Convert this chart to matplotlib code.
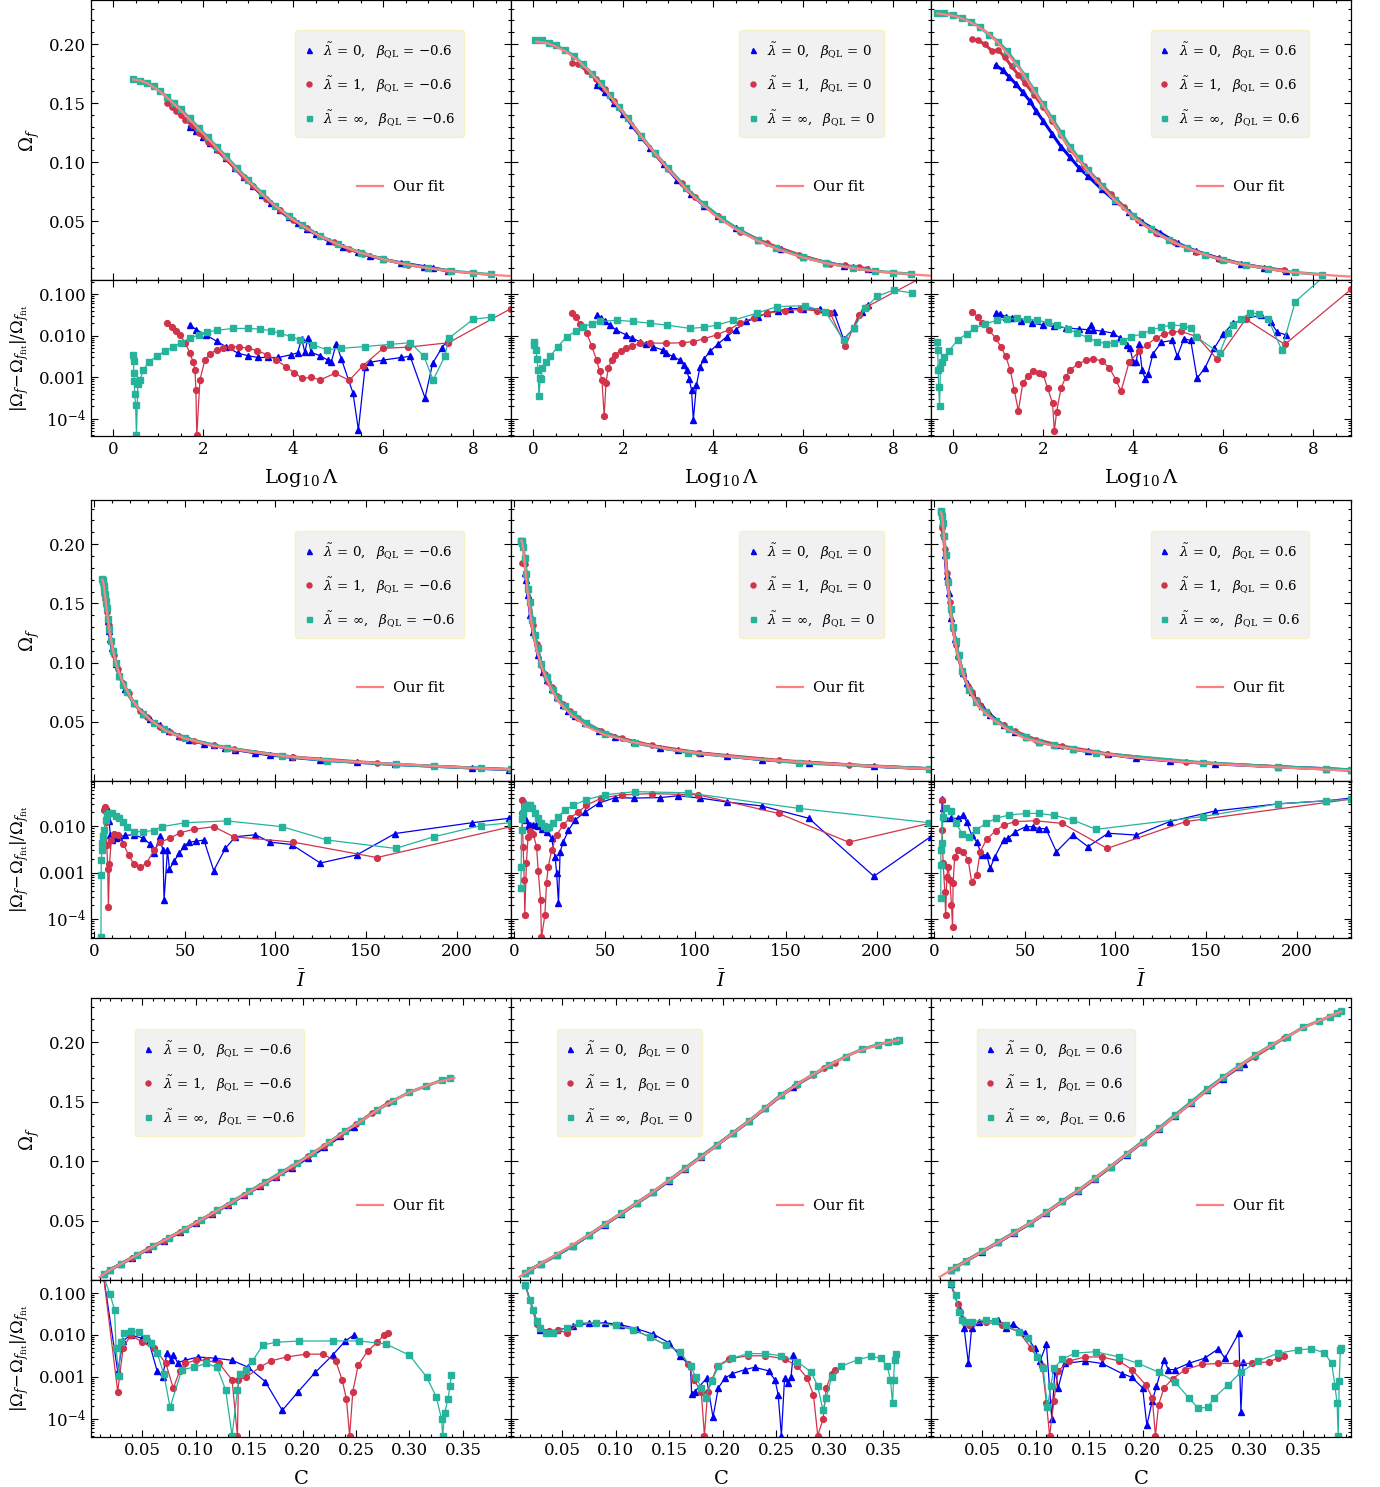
import numpy as np
import matplotlib.pyplot as plt
from matplotlib.lines import Line2D
from matplotlib.ticker import FixedLocator, FixedFormatter, MultipleLocator, LogLocator, NullFormatter

plt.rcParams["font.family"] = ["DejaVu Serif"]
plt.rcParams["mathtext.fontset"] = "dejavuserif"

BLUE = "#0000f0"
RED = "#d1334b"
TEAL = "#26b39b"
FIT = "#ff8080"

# ---------------- block 1: Log10 Lambda ----------------
# beta_QL = -0.6
Lm_fit_x = [0.45, 0.6, 0.75, 1.0, 1.25, 1.5, 2.0, 2.5, 3.0, 3.5, 4.0, 4.5, 5.0, 5.5, 6.0, 6.5, 7.0, 7.5, 8.0, 8.5, 8.84]
Lm_fit_y = [0.170, 0.169, 0.167, 0.161, 0.153, 0.144, 0.124, 0.104, 0.084, 0.066, 0.051, 0.039, 0.030, 0.023, 0.0175, 0.0133, 0.010, 0.0076, 0.0057, 0.0042, 0.0033]
Lm_sq_x = [0.45, 0.6, 0.75, 0.9, 1.05, 1.2, 1.35, 1.5, 1.7, 1.9, 2.1, 2.3, 2.5, 2.75, 3.0, 3.3, 3.6, 3.9, 4.2, 4.6, 5.0, 5.5, 6.0, 6.5, 7.0, 7.5, 8.0, 8.4]
Lm_sq_y = [0.170, 0.169, 0.167, 0.164, 0.160, 0.155, 0.150, 0.145, 0.137, 0.129, 0.121, 0.113, 0.105, 0.095, 0.085, 0.074, 0.063, 0.0545, 0.0465, 0.0375, 0.0302, 0.0232, 0.0177, 0.0134, 0.0101, 0.0077, 0.0059, 0.0047]
Lm_circ_x = [1.2, 1.3, 1.4, 1.5, 1.6, 1.75, 1.9, 2.1, 2.3, 2.5, 2.7, 2.9, 3.1, 3.4, 3.7, 4.0, 4.3, 4.6, 4.9, 5.25, 5.55, 6.0, 6.55, 7.45]
Lm_circ_y = [0.150, 0.147, 0.143, 0.140, 0.136, 0.131, 0.125, 0.117, 0.110, 0.103, 0.095, 0.087, 0.080, 0.069, 0.059, 0.051, 0.044, 0.037, 0.032, 0.026, 0.0223, 0.0175, 0.0130, 0.0078]
Lm_tri_x = [1.7, 1.85, 2.0, 2.15, 2.3, 2.5, 2.7, 2.9, 3.1, 3.3, 3.5, 3.7, 3.9, 4.1, 4.3, 4.5, 4.8, 5.1, 5.45, 5.7, 6.0, 6.4, 6.9, 7.1, 7.45]
Lm_tri_y = [0.130, 0.126, 0.121, 0.116, 0.111, 0.103, 0.095, 0.087, 0.080, 0.072, 0.065, 0.059, 0.053, 0.048, 0.043, 0.039, 0.033, 0.028, 0.0235, 0.0205, 0.0176, 0.0145, 0.0114, 0.0103, 0.0077]
Lm_sq_rx = [0.45, 0.455, 0.46, 0.47, 0.48, 0.5, 0.52, 0.55, 0.6, 0.67, 0.8, 0.97, 1.15, 1.34, 1.5, 1.71, 1.9, 2.08, 2.3, 2.67, 3.0, 3.27, 3.5, 3.71, 3.95, 4.16, 4.45, 4.75, 5.07, 5.6, 6.15, 6.6, 6.9, 7.11, 7.37, 7.46, 8.0, 8.4]
Lm_sq_r = [0.0035, 0.0025, 0.0013, 0.0008, 0.0004, 0.00022, 0.00004, 0.0007, 0.00087, 0.0015, 0.0024, 0.0032, 0.0043, 0.0054, 0.0068, 0.0087, 0.0105, 0.0123, 0.0135, 0.015, 0.015, 0.0145, 0.0132, 0.0115, 0.0095, 0.0079, 0.006, 0.0046, 0.005, 0.0055, 0.0062, 0.0068, 0.0033, 0.00087, 0.0032, 0.0087, 0.025, 0.028]
Lm_circ_rx = [1.19, 1.3, 1.4, 1.49, 1.6, 1.71, 1.78, 1.82, 1.84, 1.86, 1.93, 2.04, 2.15, 2.3, 2.45, 2.63, 2.8, 3.0, 3.2, 3.42, 3.63, 3.84, 4.02, 4.2, 4.4, 4.6, 4.93, 5.25, 5.55, 6.0, 6.55, 7.45, 8.84]
Lm_circ_r = [0.020, 0.016, 0.013, 0.0105, 0.0068, 0.0038, 0.0023, 0.0015, 0.0005, 0.00004, 0.00087, 0.0026, 0.0036, 0.0046, 0.0052, 0.0055, 0.0054, 0.005, 0.0044, 0.0035, 0.0026, 0.0018, 0.0013, 0.00095, 0.001, 0.00087, 0.00125, 0.00085, 0.0019, 0.005, 0.0053, 0.0068, 0.045]
Lm_tri_rx = [1.71, 1.85, 2.06, 2.3, 2.5, 2.78, 3.0, 3.22, 3.45, 3.67, 3.96, 4.1, 4.19, 4.26, 4.33, 4.4, 4.6, 4.77, 4.85, 4.96, 5.07, 5.33, 5.45, 5.6, 5.7, 6.0, 6.4, 6.6, 6.93, 7.1, 7.3, 7.45]
Lm_tri_r = [0.018, 0.014, 0.0105, 0.0074, 0.0055, 0.0038, 0.0033, 0.003, 0.003, 0.003, 0.0035, 0.0039, 0.0085, 0.004, 0.009, 0.004, 0.0033, 0.0026, 0.0024, 0.0065, 0.0028, 0.00042, 0.000055, 0.0018, 0.0023, 0.0026, 0.003, 0.0032, 0.00032, 0.0022, 0.005, 0.0085]

# beta_QL = 0
Lz_fit_x = [0.07, 0.3, 0.5, 0.75, 1.0, 1.25, 1.5, 2.0, 2.5, 3.0, 3.5, 4.0, 4.5, 5.0, 5.5, 6.0, 6.5, 7.0, 7.5, 8.0, 8.5, 8.84]
Lz_fit_y = [0.202, 0.201, 0.198, 0.193, 0.186, 0.177, 0.166, 0.142, 0.117, 0.094, 0.073, 0.056, 0.043, 0.033, 0.025, 0.019, 0.0143, 0.0107, 0.008, 0.006, 0.0045, 0.0036]
Lz_sq_x = [0.05, 0.2, 0.35, 0.5, 0.7, 0.9, 1.1, 1.3, 1.5, 1.7, 1.9, 2.1, 2.4, 2.7, 3.0, 3.4, 3.8, 4.2, 4.6, 5.0, 5.4, 6.0, 6.5, 7.1, 7.6, 8.0, 8.4]
Lz_sq_y = [0.203, 0.203, 0.201, 0.199, 0.195, 0.190, 0.183, 0.175, 0.167, 0.157, 0.147, 0.137, 0.122, 0.108, 0.095, 0.078, 0.064, 0.052, 0.042, 0.0335, 0.027, 0.0195, 0.0147, 0.0105, 0.0077, 0.0062, 0.005]
Lz_circ_x = [0.86, 1.0, 1.2, 1.4, 1.6, 1.8, 2.1, 2.4, 2.7, 3.0, 3.3, 3.6, 4.1, 4.6, 5.2, 5.9, 6.6, 6.94, 7.23, 7.42]
Lz_circ_y = [0.184, 0.183, 0.177, 0.170, 0.162, 0.152, 0.137, 0.122, 0.107, 0.094, 0.082, 0.070, 0.054, 0.041, 0.031, 0.0215, 0.0138, 0.0123, 0.0106, 0.0096]
Lz_tri_x = [1.41, 1.6, 1.8, 2.0, 2.2, 2.4, 2.6, 2.9, 3.2, 3.5, 3.8, 4.1, 4.5, 5.0, 5.5, 6.0, 6.5, 6.9, 7.1, 7.45]
Lz_tri_y = [0.165, 0.159, 0.150, 0.141, 0.131, 0.121, 0.112, 0.098, 0.085, 0.073, 0.063, 0.054, 0.044, 0.034, 0.026, 0.0195, 0.0148, 0.0121, 0.011, 0.0094]
Lz_sq_rx = [0.01, 0.03, 0.06, 0.09, 0.11, 0.13, 0.16, 0.18, 0.2, 0.28, 0.38, 0.55, 0.75, 0.95, 1.12, 1.3, 1.49, 1.86, 2.23, 2.6, 2.97, 3.49, 3.8, 4.08, 4.45, 4.97, 5.42, 6.04, 6.49, 6.9, 7.12, 7.38, 7.64, 8.01, 8.42]
Lz_sq_r = [0.0072, 0.006, 0.0045, 0.0028, 0.0015, 0.00035, 0.00095, 0.0009, 0.0017, 0.0023, 0.0032, 0.0055, 0.0095, 0.013, 0.0165, 0.0195, 0.022, 0.0235, 0.022, 0.02, 0.018, 0.015, 0.016, 0.018, 0.0235, 0.035, 0.05, 0.053, 0.038, 0.0079, 0.015, 0.046, 0.089, 0.125, 0.107]
Lz_circ_rx = [0.86, 0.95, 1.05, 1.19, 1.3, 1.41, 1.48, 1.53, 1.58, 1.62, 1.67, 1.75, 1.82, 1.95, 2.07, 2.2, 2.37, 2.6, 2.96, 3.3, 3.56, 3.8, 4.08, 4.35, 4.6, 4.9, 5.2, 5.6, 5.94, 6.3, 6.6, 6.94, 7.23, 7.42, 8.84]
Lz_circ_r = [0.035, 0.028, 0.019, 0.0115, 0.0058, 0.0026, 0.0014, 0.00087, 0.000115, 0.00072, 0.0017, 0.0026, 0.0035, 0.0043, 0.005, 0.0058, 0.0066, 0.0067, 0.0066, 0.0068, 0.0072, 0.0085, 0.0105, 0.014, 0.020, 0.027, 0.035, 0.040, 0.043, 0.040, 0.035, 0.0056, 0.032, 0.05, 0.33]
Lz_tri_rx = [1.41, 1.5, 1.6, 1.71, 1.85, 2.07, 2.2, 2.37, 2.52, 2.66, 2.89, 2.96, 3.1, 3.26, 3.35, 3.41, 3.47, 3.52, 3.56, 3.63, 3.71, 3.8, 3.93, 4.1, 4.3, 4.5, 4.74, 5.0, 5.19, 5.45, 5.7, 6.0, 6.38, 6.68, 6.9, 7.12, 7.3, 7.45]
Lz_tri_r = [0.031, 0.027, 0.022, 0.018, 0.0135, 0.0105, 0.0088, 0.0072, 0.0063, 0.0055, 0.0045, 0.0038, 0.0032, 0.0026, 0.002, 0.0015, 0.0009, 0.0005, 0.000095, 0.00066, 0.0018, 0.0028, 0.0042, 0.0062, 0.0095, 0.014, 0.022, 0.028, 0.035, 0.040, 0.045, 0.045, 0.043, 0.038, 0.0082, 0.015, 0.038, 0.055]

# beta_QL = 0.6
Lp_fit_x = [-0.35, 0.0, 0.25, 0.5, 0.75, 1.0, 1.25, 1.5, 2.0, 2.5, 3.0, 3.5, 4.0, 4.5, 5.0, 5.5, 6.0, 6.5, 7.0, 7.5, 8.0, 8.5, 8.83]
Lp_fit_y = [0.226, 0.224, 0.221, 0.216, 0.210, 0.201, 0.190, 0.178, 0.148, 0.116, 0.092, 0.071, 0.053, 0.040, 0.030, 0.0226, 0.0168, 0.0127, 0.0094, 0.0068, 0.0050, 0.0037, 0.0029]
Lp_sq_x = [-0.35, -0.2, 0.0, 0.2, 0.4, 0.6, 0.8, 1.0, 1.2, 1.4, 1.6, 1.8, 2.0, 2.2, 2.4, 2.6, 2.8, 3.0, 3.3, 3.6, 4.0, 4.4, 4.8, 5.2, 5.6, 6.0, 6.5, 7.0, 7.6, 8.2]
Lp_sq_y = [0.226, 0.226, 0.225, 0.222, 0.219, 0.214, 0.208, 0.202, 0.194, 0.184, 0.173, 0.161, 0.149, 0.137, 0.125, 0.113, 0.103, 0.093, 0.080, 0.068, 0.054, 0.043, 0.034, 0.027, 0.0213, 0.0169, 0.0128, 0.0095, 0.0064, 0.0046]
Lp_circ_x = [0.43, 0.55, 0.7, 0.87, 1.0, 1.15, 1.3, 1.45, 1.6, 1.8, 2.0, 2.2, 2.4, 2.6, 2.9, 3.2, 3.5, 3.8, 4.1, 4.5, 4.9, 5.4, 5.9, 6.5, 7.35]
Lp_circ_y = [0.204, 0.203, 0.200, 0.194, 0.195, 0.189, 0.181, 0.174, 0.167, 0.157, 0.147, 0.135, 0.123, 0.111, 0.097, 0.085, 0.073, 0.062, 0.051, 0.040, 0.032, 0.024, 0.018, 0.0128, 0.0082]
Lp_tri_x = [0.95, 1.1, 1.25, 1.4, 1.55, 1.7, 1.85, 2.0, 2.2, 2.4, 2.6, 2.8, 3.0, 3.3, 3.6, 3.9, 4.2, 4.6, 5.0, 5.4, 5.9, 6.4, 6.9, 7.4]
Lp_tri_y = [0.182, 0.178, 0.172, 0.166, 0.159, 0.152, 0.143, 0.135, 0.124, 0.113, 0.104, 0.095, 0.088, 0.077, 0.067, 0.058, 0.049, 0.040, 0.031, 0.0245, 0.0185, 0.0138, 0.0102, 0.0077]
Lp_sq_rx = [-0.35, -0.34, -0.33, -0.32, -0.3, -0.28, -0.24, -0.2, -0.1, 0.1, 0.3, 0.47, 0.7, 0.98, 1.2, 1.43, 1.65, 1.87, 2.1, 2.32, 2.55, 2.76, 3.0, 3.2, 3.4, 3.58, 3.78, 3.96, 4.2, 4.4, 4.62, 4.84, 5.1, 5.29, 5.4, 5.92, 6.1, 6.22, 6.4, 6.6, 6.8, 7.0, 7.3, 7.6, 8.4]
Lp_sq_r = [0.0072, 0.0045, 0.0015, 0.0006, 0.0002, 0.0017, 0.0024, 0.003, 0.0042, 0.0079, 0.011, 0.015, 0.019, 0.0235, 0.025, 0.026, 0.025, 0.0235, 0.021, 0.018, 0.0145, 0.0115, 0.009, 0.0072, 0.0065, 0.0068, 0.0075, 0.0095, 0.011, 0.0137, 0.016, 0.018, 0.0175, 0.015, 0.0095, 0.0038, 0.0115, 0.018, 0.025, 0.036, 0.033, 0.025, 0.0046, 0.066, 0.38]
Lp_circ_rx = [0.43, 0.55, 0.65, 0.8, 0.95, 1.06, 1.17, 1.27, 1.36, 1.45, 1.55, 1.66, 1.77, 1.9, 2.0, 2.1, 2.21, 2.25, 2.3, 2.4, 2.5, 2.59, 2.78, 2.96, 3.1, 3.3, 3.47, 3.62, 3.73, 3.91, 4.13, 4.3, 4.5, 4.68, 4.87, 5.06, 5.42, 5.87, 6.5, 7.37, 8.84]
Lp_circ_r = [0.038, 0.028, 0.020, 0.0135, 0.0087, 0.0055, 0.0032, 0.0015, 0.0005, 0.000155, 0.00072, 0.0011, 0.0014, 0.0013, 0.0012, 0.00055, 0.00024, 0.00005, 0.00015, 0.00055, 0.001, 0.0015, 0.0021, 0.0026, 0.0028, 0.0025, 0.0017, 0.00087, 0.00046, 0.0023, 0.0042, 0.006, 0.0087, 0.011, 0.0123, 0.0127, 0.0095, 0.0027, 0.025, 0.0062, 0.13]
Lp_tri_rx = [0.95, 1.05, 1.17, 1.3, 1.5, 1.76, 2.0, 2.25, 2.5, 2.8, 3.0, 3.06, 3.1, 3.3, 3.56, 3.7, 3.86, 3.93, 4.0, 4.07, 4.13, 4.2, 4.27, 4.33, 4.44, 4.63, 4.87, 4.98, 5.13, 5.28, 5.42, 5.6, 5.8, 6.0, 6.22, 6.5, 6.83, 7.06, 7.2, 7.39]
Lp_tri_r = [0.036, 0.033, 0.029, 0.026, 0.023, 0.020, 0.018, 0.0168, 0.0155, 0.0145, 0.014, 0.018, 0.0137, 0.013, 0.0115, 0.009, 0.006, 0.005, 0.0024, 0.0024, 0.0065, 0.0015, 0.0009, 0.0012, 0.0037, 0.007, 0.0077, 0.0032, 0.0085, 0.0077, 0.00095, 0.0017, 0.005, 0.011, 0.020, 0.026, 0.031, 0.021, 0.0123, 0.0105]

# ---------------- block 2: I bar ----------------
Im_fit_x = [4.6, 5.2, 5.7, 6.5, 7.5, 8.8, 10.5, 12.5, 15.7, 20, 25, 31.5, 40, 50, 65, 85, 105, 130, 160, 190, 220, 232]
Im_fit_y = [0.170, 0.167, 0.161, 0.151, 0.138, 0.124, 0.110, 0.097, 0.084, 0.071, 0.060, 0.051, 0.042, 0.036, 0.030, 0.025, 0.021, 0.0175, 0.0148, 0.0125, 0.0102, 0.0097]
Im_sq_x = [4.6, 4.8, 5.0, 5.3, 5.6, 6.0, 6.5, 7.0, 7.7, 8.5, 9.5, 10.5, 12, 14, 16, 18, 21.8, 27, 32.8, 38.3, 50.3, 73.3, 103.7, 128.6, 166.3, 187.5, 213.3, 229.8]
Im_sq_y = [0.171, 0.170, 0.168, 0.165, 0.162, 0.158, 0.152, 0.146, 0.137, 0.128, 0.118, 0.110, 0.100, 0.089, 0.081, 0.075, 0.066, 0.057, 0.049, 0.044, 0.036, 0.028, 0.0212, 0.0173, 0.014, 0.0124, 0.0107, 0.0099]
Im_circ_x = [5.5, 6.0, 6.5, 7.0, 7.5, 8.0, 8.5, 9.5, 11, 13, 16, 19, 22, 25.5, 29, 33, 36.5, 42, 47.5, 55, 66, 77, 110, 156]
Im_circ_y = [0.158, 0.154, 0.149, 0.143, 0.137, 0.132, 0.127, 0.118, 0.106, 0.095, 0.083, 0.074, 0.066, 0.059, 0.054, 0.049, 0.046, 0.041, 0.0375, 0.034, 0.030, 0.027, 0.0202, 0.0151]
Im_tri_x = [7.5, 8.2, 9, 10, 12, 14, 17, 21.8, 27, 30.6, 36.1, 41.6, 47, 52.5, 60.6, 66, 72.4, 77.9, 89, 97.2, 109, 124.8, 145, 166, 208.6, 229]
Im_tri_y = [0.135, 0.127, 0.120, 0.112, 0.099, 0.089, 0.078, 0.066, 0.057, 0.052, 0.047, 0.042, 0.038, 0.035, 0.0315, 0.030, 0.028, 0.0265, 0.0238, 0.022, 0.020, 0.0178, 0.0158, 0.014, 0.011, 0.0096]
Im_sq_rx = [3.8, 3.9, 4.0, 4.3, 4.6, 5.0, 5.5, 6.4, 7.3, 8.2, 10, 12, 14, 16, 18, 21.8, 27, 32.8, 37.4, 50.3, 73.3, 103.7, 128.6, 166.3, 187.5, 213.3, 229.8]
Im_sq_r = [0.00004, 0.0009, 0.0019, 0.003, 0.0043, 0.006, 0.0082, 0.0135, 0.017, 0.0187, 0.0187, 0.0168, 0.0147, 0.012, 0.0097, 0.0076, 0.0076, 0.008, 0.0097, 0.0118, 0.0129, 0.0097, 0.005, 0.0033, 0.0059, 0.0102, 0.0118]
Im_circ_rx = [5.5, 6.0, 6.5, 7.0, 7.5, 7.9, 8.5, 9.5, 11, 13, 16, 19, 22, 25.5, 29, 33, 36.5, 42, 47.5, 55, 66, 77, 110, 156, 230]
Im_circ_r = [0.022, 0.026, 0.012, 0.004, 0.0012, 0.00018, 0.0015, 0.005, 0.0068, 0.0065, 0.0042, 0.0024, 0.0015, 0.0013, 0.0016, 0.003, 0.0045, 0.0055, 0.0072, 0.0085, 0.0097, 0.0059, 0.0045, 0.0021, 0.0097]
Im_tri_rx = [7.5, 8.2, 9, 10, 12, 14, 17, 21.8, 27, 30.6, 33.3, 36.1, 38, 38.6, 40.5, 41.6, 44.3, 47, 49.8, 52.5, 56, 60.6, 66, 72.4, 77.9, 89, 97.2, 109, 124.8, 145, 166, 208.6, 229]
Im_tri_r = [0.022, 0.013, 0.0065, 0.005, 0.0055, 0.0059, 0.0063, 0.0065, 0.0055, 0.0042, 0.0026, 0.006, 0.003, 0.00026, 0.003, 0.00117, 0.0018, 0.0026, 0.0038, 0.0045, 0.0047, 0.005, 0.0011, 0.0033, 0.0059, 0.0065, 0.0045, 0.004, 0.0016, 0.0024, 0.0069, 0.0118, 0.0147]

Iz_fit_x = [4.0, 4.4, 4.8, 5.2, 5.7, 6.5, 7.5, 8.8, 10.5, 12.5, 15.7, 20, 25, 31.5, 40, 50, 65, 85, 105, 130, 160, 190, 220, 232]
Iz_fit_y = [0.203, 0.202, 0.199, 0.194, 0.186, 0.174, 0.159, 0.142, 0.125, 0.110, 0.094, 0.079, 0.066, 0.056, 0.046, 0.039, 0.033, 0.027, 0.023, 0.019, 0.0158, 0.0132, 0.0108, 0.0102]
Iz_sq_x = [3.7, 3.9, 4.1, 4.5, 5.0, 5.8, 6.8, 7.8, 8.7, 10, 11.4, 13, 15.1, 17.9, 21.5, 24.3, 28, 32.6, 39.9, 50, 66.6, 96, 157, 229]
Iz_sq_y = [0.203, 0.203, 0.203, 0.201, 0.198, 0.188, 0.175, 0.162, 0.151, 0.136, 0.123, 0.112, 0.099, 0.088, 0.077, 0.070, 0.063, 0.057, 0.049, 0.040, 0.032, 0.024, 0.0153, 0.0104]
Iz_circ_x = [4.4, 5.2, 5.9, 6.8, 7.7, 8.7, 10.5, 12.4, 15.1, 17, 18.8, 20.7, 23.5, 27.1, 30.8, 35.4, 39.9, 48.2, 59.3, 75.9, 101.7, 145.9, 184.6, 230.6]
Iz_circ_y = [0.184, 0.184, 0.183, 0.174, 0.162, 0.150, 0.132, 0.116, 0.098, 0.090, 0.084, 0.079, 0.072, 0.065, 0.059, 0.053, 0.049, 0.042, 0.036, 0.030, 0.0238, 0.0175, 0.0137, 0.0103]
Iz_tri_x = [5.9, 6.8, 7.7, 9, 10.5, 13.3, 16, 17.9, 20.7, 23.5, 27.2, 30, 33.6, 39.2, 46.6, 55.8, 65.9, 80.6, 90.7, 102.7, 117.4, 136.8, 162.6, 198.5, 229.8]
Iz_tri_y = [0.176, 0.170, 0.157, 0.140, 0.126, 0.106, 0.092, 0.085, 0.078, 0.071, 0.064, 0.059, 0.055, 0.049, 0.042, 0.037, 0.033, 0.028, 0.026, 0.0235, 0.021, 0.018, 0.0155, 0.0124, 0.0103]
Iz_sq_rx = [3.7, 3.9, 4.1, 4.5, 5.0, 5.8, 6.8, 7.8, 8.7, 10, 11.4, 13, 15.1, 16.5, 17.9, 19.5, 21.5, 24.3, 28, 32.6, 39.9, 50, 66.6, 96, 157, 229]
Iz_sq_r = [0.00046, 0.0013, 0.0082, 0.014, 0.0187, 0.024, 0.027, 0.028, 0.028, 0.024, 0.0187, 0.015, 0.0114, 0.0098, 0.0089, 0.0095, 0.0114, 0.016, 0.022, 0.028, 0.037, 0.047, 0.055, 0.052, 0.024, 0.0118]
Iz_circ_rx = [4.1, 4.4, 5.0, 5.6, 5.9, 6.8, 7.7, 8.7, 10.5, 12.4, 13.3, 14.6, 15.1, 17, 17.9, 18.8, 20.7, 23.5, 27.1, 30.8, 35.4, 39.9, 48.2, 59.3, 75.9, 101.7, 145.9, 184.6, 230.6]
Iz_circ_r = [0.036, 0.0187, 0.0036, 0.0007, 0.00012, 0.0016, 0.0059, 0.008, 0.0068, 0.0036, 0.0011, 0.00026, 0.00004, 0.00012, 0.0006, 0.0013, 0.003, 0.0064, 0.0105, 0.015, 0.02, 0.028, 0.04, 0.047, 0.05, 0.047, 0.0187, 0.0045, 0.0118]
Iz_tri_rx = [5.9, 6.8, 7.7, 9, 10.5, 12, 13.3, 15.5, 17.9, 20.7, 22.6, 23.5, 24.5, 25.4, 27.2, 30, 33.6, 39.2, 46.6, 55.8, 65.9, 80.6, 90.7, 102.7, 117.4, 136.8, 162.6, 198.5, 229.8]
Iz_tri_r = [0.031, 0.0135, 0.01, 0.0105, 0.0108, 0.0105, 0.01, 0.0088, 0.0076, 0.0054, 0.0022, 0.00096, 0.00022, 0.0028, 0.0046, 0.0081, 0.0135, 0.02, 0.031, 0.041, 0.04, 0.041, 0.045, 0.04, 0.033, 0.027, 0.0147, 0.00083, 0.0059]

Ip_fit_x = [3.8, 4.35, 4.8, 5.2, 5.7, 6.5, 7.5, 8.8, 10.5, 12.5, 15.7, 20, 25, 31.5, 40, 50, 65, 85, 105, 130, 160, 190, 220, 232]
Ip_fit_y = [0.227, 0.224, 0.219, 0.212, 0.201, 0.184, 0.166, 0.148, 0.127, 0.110, 0.092, 0.075, 0.062, 0.053, 0.044, 0.036, 0.030, 0.025, 0.0205, 0.0168, 0.0140, 0.0116, 0.0094, 0.0090]
Ip_sq_x = [3.7, 4.0, 4.4, 4.9, 5.5, 6.4, 7.5, 9.2, 10.5, 11.9, 13.5, 15.6, 19.3, 22.9, 28.5, 34, 41.4, 50.6, 58, 66.3, 76.5, 89.3, 148.2, 189.6, 216.3, 230]
Ip_sq_y = [0.228, 0.227, 0.224, 0.218, 0.207, 0.191, 0.168, 0.145, 0.130, 0.118, 0.106, 0.093, 0.077, 0.067, 0.058, 0.051, 0.044, 0.037, 0.033, 0.030, 0.027, 0.0235, 0.0155, 0.0120, 0.0104, 0.0094]
Ip_circ_x = [4.1, 4.4, 5.0, 5.9, 7.0, 8.7, 10.5, 12, 13.3, 16, 18.8, 20.7, 23.5, 25.4, 29, 34, 38.3, 44.9, 56, 70.7, 95.5, 138.8, 230]
Ip_circ_y = [0.215, 0.214, 0.208, 0.196, 0.176, 0.151, 0.128, 0.115, 0.105, 0.090, 0.080, 0.075, 0.068, 0.064, 0.058, 0.051, 0.047, 0.042, 0.035, 0.0295, 0.023, 0.016, 0.009]
Ip_tri_x = [6.0, 7.0, 8.0, 9.6, 11.5, 13.3, 16, 17.9, 20.7, 23.5, 26.3, 30.9, 38.3, 44.9, 50.6, 57.9, 67.5, 76.5, 84.9, 96, 111.6, 130, 154.8, 189.6, 216.3, 230]
Ip_tri_y = [0.191, 0.173, 0.159, 0.138, 0.120, 0.106, 0.091, 0.083, 0.075, 0.068, 0.063, 0.056, 0.047, 0.041, 0.037, 0.033, 0.030, 0.027, 0.025, 0.0225, 0.0194, 0.017, 0.0145, 0.012, 0.0104, 0.0094]
Ip_sq_rx = [3.7, 3.7, 3.75, 4.2, 4.9, 6.4, 9.2, 11.9, 15.6, 19.3, 22.9, 28.5, 34, 41.4, 50.6, 58, 66.3, 76.5, 89.3, 148.2, 189.6, 216.3, 230]
Ip_sq_r = [0.00028, 0.00145, 0.003, 0.0043, 0.016, 0.024, 0.021, 0.0114, 0.0069, 0.0059, 0.0081, 0.0114, 0.0147, 0.0173, 0.0187, 0.0187, 0.017, 0.0135, 0.0085, 0.016, 0.03, 0.035, 0.038]
Ip_circ_rx = [4.1, 4.4, 5.0, 5.9, 6.4, 7.0, 7.7, 8.7, 9.6, 10.2, 10.5, 11.4, 13.3, 16, 18.8, 20.7, 23.5, 25.4, 29, 34, 38.3, 44.9, 56, 70.7, 95.5, 138.8, 230]
Ip_circ_r = [0.036, 0.0082, 0.0016, 0.00039, 0.00012, 0.0008, 0.0013, 0.0007, 0.0002, 0.000068, 0.0006, 0.0022, 0.003, 0.0028, 0.0019, 0.00063, 0.00088, 0.0028, 0.0052, 0.0079, 0.0105, 0.0125, 0.013, 0.0114, 0.0033, 0.0125, 0.038]
Ip_tri_rx = [4.4, 5.0, 6.0, 9.6, 13.3, 16, 17.9, 20.7, 23.5, 26.3, 29, 30.9, 33.6, 38.3, 41, 44.9, 50.6, 54.3, 57.9, 61.7, 67.5, 76.5, 84.9, 96, 111.6, 130, 154.8, 189.6, 216.3, 230]
Ip_tri_r = [0.038, 0.024, 0.0147, 0.0147, 0.0147, 0.017, 0.0125, 0.0064, 0.0046, 0.0024, 0.0024, 0.00123, 0.0022, 0.005, 0.0055, 0.0076, 0.0097, 0.0097, 0.0088, 0.0088, 0.0028, 0.0064, 0.0036, 0.007, 0.0064, 0.0125, 0.021, 0.03, 0.035, 0.04]

# ---------------- block 3: compactness C ----------------
Cm_fit_x = [0.010, 0.02, 0.035, 0.05, 0.075, 0.1, 0.125, 0.15, 0.175, 0.2, 0.225, 0.25, 0.275, 0.3, 0.32, 0.342]
Cm_fit_y = [0.0025, 0.0085, 0.016, 0.0235, 0.0355, 0.048, 0.061, 0.074, 0.087, 0.101, 0.116, 0.131, 0.146, 0.158, 0.165, 0.170]
Cm_sq_x = [0.0138, 0.02, 0.03, 0.045, 0.06, 0.075, 0.09, 0.105, 0.12, 0.135, 0.15, 0.165, 0.18, 0.195, 0.21, 0.225, 0.24, 0.255, 0.27, 0.285, 0.3, 0.315, 0.33, 0.338]
Cm_sq_y = [0.0048, 0.0087, 0.0137, 0.021, 0.0283, 0.0356, 0.043, 0.0506, 0.0585, 0.0665, 0.0745, 0.0825, 0.0905, 0.0985, 0.107, 0.116, 0.1255, 0.134, 0.143, 0.151, 0.158, 0.163, 0.168, 0.170]
Cm_circ_x = [0.0138, 0.02, 0.03, 0.04, 0.055, 0.07, 0.085, 0.1, 0.115, 0.13, 0.145, 0.16, 0.175, 0.19, 0.205, 0.22, 0.235, 0.25, 0.265, 0.28]
Cm_circ_y = [0.0047, 0.0086, 0.0136, 0.0185, 0.026, 0.033, 0.0405, 0.048, 0.0557, 0.0635, 0.0715, 0.0795, 0.087, 0.095, 0.104, 0.1125, 0.122, 0.131, 0.1405, 0.149]
Cm_tri_x = [0.0138, 0.02, 0.03, 0.04, 0.055, 0.07, 0.085, 0.1, 0.115, 0.13, 0.145, 0.16, 0.175, 0.19, 0.205, 0.22, 0.235, 0.248]
Cm_tri_y = [0.0047, 0.0086, 0.0135, 0.0184, 0.0258, 0.0328, 0.0402, 0.0477, 0.0554, 0.0632, 0.0712, 0.079, 0.0867, 0.0945, 0.103, 0.1115, 0.121, 0.129]
Cm_sq_rx = [0.0138, 0.0197, 0.024, 0.0255, 0.028, 0.030, 0.0333, 0.0395, 0.047, 0.053, 0.058, 0.064, 0.07, 0.076, 0.087, 0.098, 0.11, 0.12, 0.128, 0.134, 0.139, 0.141, 0.147, 0.153, 0.163, 0.175, 0.197, 0.228, 0.253, 0.278, 0.30, 0.316, 0.325, 0.33, 0.331, 0.333, 0.336, 0.338, 0.339]
Cm_sq_r = [0.245, 0.095, 0.04, 0.0048, 0.00105, 0.0069, 0.011, 0.0122, 0.0117, 0.0083, 0.0063, 0.0037, 0.0012, 0.00019, 0.0015, 0.0017, 0.0021, 0.0017, 0.00049, 0.00004, 0.00049, 0.0012, 0.0015, 0.0024, 0.0058, 0.0067, 0.0072, 0.0072, 0.0072, 0.0061, 0.0033, 0.001, 0.00034, 0.0001, 0.00004, 0.00014, 0.0003, 0.0006, 0.0011]
Cm_circ_rx = [0.0138, 0.027, 0.032, 0.039, 0.05, 0.061, 0.072, 0.079, 0.085, 0.09, 0.1, 0.11, 0.122, 0.134, 0.139, 0.14, 0.147, 0.16, 0.17, 0.185, 0.203, 0.219, 0.231, 0.237, 0.241, 0.244, 0.247, 0.252, 0.261, 0.27, 0.276, 0.28]
Cm_circ_r = [0.245, 0.00045, 0.0048, 0.01, 0.0067, 0.005, 0.0021, 0.00054, 0.0014, 0.0021, 0.0025, 0.0025, 0.0021, 0.00085, 0.00004, 0.00085, 0.00098, 0.0017, 0.0024, 0.003, 0.0035, 0.0035, 0.0024, 0.00085, 0.0003, 0.00004, 0.00045, 0.0019, 0.0042, 0.0067, 0.01, 0.011]
Cm_tri_rx = [0.0138, 0.027, 0.032, 0.039, 0.05, 0.056, 0.064, 0.069, 0.073, 0.077, 0.079, 0.083, 0.09, 0.102, 0.118, 0.134, 0.149, 0.165, 0.181, 0.196, 0.212, 0.228, 0.24, 0.248]
Cm_tri_r = [0.245, 0.00135, 0.0072, 0.01, 0.0083, 0.0072, 0.00135, 0.001, 0.0037, 0.0025, 0.0034, 0.0022, 0.0025, 0.003, 0.0028, 0.0025, 0.0017, 0.00078, 0.00016, 0.00045, 0.0013, 0.0033, 0.0072, 0.01]

Cz_fit_x = [0.010, 0.02, 0.035, 0.05, 0.075, 0.1, 0.125, 0.15, 0.175, 0.2, 0.225, 0.25, 0.275, 0.3, 0.325, 0.35, 0.365]
Cz_fit_y = [0.0028, 0.0085, 0.0165, 0.0245, 0.038, 0.053, 0.068, 0.084, 0.100, 0.117, 0.134, 0.152, 0.168, 0.181, 0.192, 0.199, 0.202]
Cz_sq_x = [0.0154, 0.02, 0.03, 0.045, 0.06, 0.075, 0.09, 0.105, 0.12, 0.135, 0.15, 0.165, 0.18, 0.195, 0.21, 0.225, 0.24, 0.255, 0.27, 0.285, 0.3, 0.315, 0.33, 0.345, 0.355, 0.362, 0.365]
Cz_sq_y = [0.006, 0.0086, 0.0138, 0.0212, 0.029, 0.038, 0.047, 0.056, 0.065, 0.074, 0.084, 0.094, 0.104, 0.114, 0.124, 0.134, 0.145, 0.156, 0.165, 0.173, 0.181, 0.188, 0.194, 0.198, 0.200, 0.201, 0.202]
Cz_circ_x = [0.0154, 0.02, 0.03, 0.045, 0.06, 0.075, 0.09, 0.105, 0.12, 0.135, 0.15, 0.165, 0.18, 0.195, 0.21, 0.225, 0.24, 0.255, 0.27, 0.285, 0.295, 0.305]
Cz_circ_y = [0.006, 0.0085, 0.0137, 0.021, 0.029, 0.0378, 0.0468, 0.0558, 0.0648, 0.0738, 0.0838, 0.0938, 0.1038, 0.1137, 0.1237, 0.1337, 0.1447, 0.1555, 0.1645, 0.1725, 0.178, 0.1825]
Cz_tri_x = [0.0154, 0.02, 0.03, 0.045, 0.06, 0.075, 0.09, 0.105, 0.12, 0.135, 0.15, 0.165, 0.18, 0.195, 0.21, 0.225, 0.24, 0.255, 0.266]
Cz_tri_y = [0.006, 0.0085, 0.0137, 0.021, 0.0289, 0.0377, 0.0467, 0.0557, 0.0647, 0.0737, 0.0837, 0.0937, 0.1038, 0.1138, 0.1238, 0.1338, 0.1445, 0.1555, 0.162]
Cz_sq_rx = [0.0154, 0.0195, 0.023, 0.026, 0.029, 0.035, 0.041, 0.054, 0.066, 0.082, 0.1, 0.116, 0.132, 0.147, 0.16, 0.17, 0.175, 0.18, 0.184, 0.19, 0.196, 0.209, 0.224, 0.24, 0.255, 0.27, 0.283, 0.289, 0.294, 0.297, 0.302, 0.311, 0.327, 0.339, 0.348, 0.354, 0.357, 0.359, 0.36, 0.361, 0.362]
Cz_sq_r = [0.155, 0.068, 0.04, 0.021, 0.0145, 0.011, 0.011, 0.015, 0.019, 0.0195, 0.017, 0.0135, 0.009, 0.0058, 0.004, 0.0018, 0.001, 0.00055, 0.00032, 0.0008, 0.0018, 0.0028, 0.0036, 0.0036, 0.0032, 0.0023, 0.0013, 0.0006, 0.00016, 0.00032, 0.001, 0.0018, 0.0026, 0.0031, 0.0028, 0.0018, 0.00087, 0.00024, 0.00087, 0.0026, 0.0035]
Cz_circ_rx = [0.0154, 0.026, 0.029, 0.038, 0.046, 0.054, 0.066, 0.082, 0.1, 0.116, 0.132, 0.147, 0.16, 0.168, 0.173, 0.18, 0.183, 0.186, 0.19, 0.195, 0.206, 0.224, 0.24, 0.258, 0.27, 0.279, 0.285, 0.289, 0.294, 0.297, 0.302, 0.305]
Cz_circ_r = [0.155, 0.018, 0.0145, 0.0125, 0.0135, 0.011, 0.019, 0.0195, 0.017, 0.0135, 0.009, 0.0058, 0.004, 0.002, 0.00085, 0.00045, 0.00004, 0.00045, 0.00085, 0.0018, 0.0027, 0.0032, 0.0032, 0.0027, 0.0018, 0.00095, 0.00038, 0.00004, 0.0001, 0.00055, 0.0012, 0.0015]
Cz_tri_rx = [0.0154, 0.029, 0.035, 0.045, 0.06, 0.075, 0.09, 0.105, 0.12, 0.135, 0.15, 0.16, 0.17, 0.171, 0.174, 0.185, 0.191, 0.196, 0.202, 0.209, 0.221, 0.23, 0.243, 0.249, 0.252, 0.255, 0.258, 0.261, 0.264, 0.266]
Cz_tri_r = [0.155, 0.013, 0.012, 0.013, 0.016, 0.019, 0.0195, 0.0175, 0.014, 0.0105, 0.0065, 0.0032, 0.0018, 0.0004, 0.00045, 0.00093, 0.00011, 0.00055, 0.00093, 0.0012, 0.0015, 0.0017, 0.0014, 0.00085, 0.00038, 0.00004, 0.00095, 0.0007, 0.001, 0.0033]

Cp_fit_x = [0.010, 0.02, 0.035, 0.05, 0.075, 0.1, 0.125, 0.15, 0.175, 0.2, 0.225, 0.25, 0.275, 0.3, 0.325, 0.35, 0.37, 0.386]
Cp_fit_y = [0.0025, 0.008, 0.016, 0.024, 0.037, 0.051, 0.066, 0.082, 0.099, 0.116, 0.134, 0.152, 0.170, 0.186, 0.200, 0.212, 0.220, 0.226]
Cp_sq_x = [0.0207, 0.025, 0.035, 0.05, 0.065, 0.08, 0.095, 0.11, 0.125, 0.14, 0.155, 0.17, 0.185, 0.2, 0.215, 0.23, 0.245, 0.26, 0.275, 0.29, 0.305, 0.32, 0.335, 0.35, 0.365, 0.375, 0.382, 0.386]
Cp_sq_y = [0.0085, 0.0107, 0.0162, 0.0242, 0.032, 0.040, 0.048, 0.057, 0.0665, 0.0755, 0.0855, 0.0955, 0.106, 0.1165, 0.1275, 0.1385, 0.1495, 0.1605, 0.1705, 0.180, 0.189, 0.1975, 0.2045, 0.2125, 0.218, 0.2215, 0.2245, 0.226]
Cp_circ_x = [0.0207, 0.025, 0.035, 0.05, 0.065, 0.08, 0.095, 0.11, 0.125, 0.14, 0.155, 0.17, 0.185, 0.2, 0.215, 0.23, 0.245, 0.26, 0.275, 0.29, 0.305, 0.32, 0.332]
Cp_circ_y = [0.0085, 0.0107, 0.0162, 0.024, 0.0318, 0.0398, 0.0478, 0.0568, 0.0663, 0.0752, 0.085, 0.0952, 0.1058, 0.1163, 0.1272, 0.1382, 0.149, 0.1598, 0.1698, 0.1795, 0.188, 0.1965, 0.2035]
Cp_tri_x = [0.0207, 0.025, 0.035, 0.05, 0.065, 0.08, 0.095, 0.11, 0.125, 0.14, 0.155, 0.17, 0.185, 0.2, 0.215, 0.23, 0.245, 0.26, 0.275, 0.29, 0.295]
Cp_tri_y = [0.0085, 0.0107, 0.0161, 0.0239, 0.0317, 0.0396, 0.0477, 0.0567, 0.0662, 0.075, 0.0849, 0.095, 0.1055, 0.116, 0.127, 0.138, 0.1488, 0.1595, 0.1695, 0.179, 0.182]
Cp_sq_rx = [0.0207, 0.025, 0.028, 0.031, 0.034, 0.04, 0.053, 0.062, 0.072, 0.084, 0.093, 0.101, 0.107, 0.111, 0.114, 0.117, 0.125, 0.137, 0.156, 0.178, 0.196, 0.215, 0.23, 0.243, 0.252, 0.261, 0.267, 0.28, 0.292, 0.308, 0.327, 0.345, 0.358, 0.37, 0.377, 0.38, 0.382, 0.383, 0.384, 0.385, 0.386]
Cp_sq_r = [0.17, 0.088, 0.035, 0.023, 0.02, 0.0205, 0.023, 0.021, 0.017, 0.012, 0.0083, 0.003, 0.0016, 0.00019, 0.0006, 0.0016, 0.0027, 0.0037, 0.004, 0.003, 0.0021, 0.0013, 0.00078, 0.00032, 0.00018, 0.00019, 0.00032, 0.00065, 0.0013, 0.0024, 0.0037, 0.0044, 0.0047, 0.0038, 0.0021, 0.0006, 0.00024, 0.00004, 0.0008, 0.0044, 0.005]
Cp_circ_rx = [0.0207, 0.027, 0.029, 0.038, 0.053, 0.068, 0.084, 0.096, 0.106, 0.11, 0.113, 0.117, 0.121, 0.131, 0.146, 0.162, 0.178, 0.19, 0.203, 0.209, 0.212, 0.215, 0.22, 0.228, 0.24, 0.256, 0.271, 0.287, 0.302, 0.318, 0.327, 0.332]
Cp_circ_r = [0.16, 0.055, 0.036, 0.017, 0.0205, 0.017, 0.012, 0.0048, 0.0018, 0.00024, 0.00004, 0.00027, 0.0014, 0.0024, 0.003, 0.003, 0.0024, 0.0015, 0.00065, 0.00032, 0.00004, 0.00022, 0.00055, 0.0009, 0.0015, 0.002, 0.0021, 0.0021, 0.0021, 0.0023, 0.0028, 0.0032]
Cp_tri_rx = [0.0207, 0.028, 0.031, 0.033, 0.037, 0.04, 0.047, 0.065, 0.072, 0.079, 0.09, 0.099, 0.104, 0.11, 0.115, 0.118, 0.121, 0.127, 0.146, 0.162, 0.181, 0.19, 0.2, 0.204, 0.209, 0.213, 0.22, 0.224, 0.23, 0.243, 0.258, 0.271, 0.277, 0.29, 0.292, 0.294]
Cp_tri_r = [0.16, 0.045, 0.025, 0.0145, 0.0021, 0.0145, 0.02, 0.023, 0.0145, 0.018, 0.011, 0.0048, 0.0024, 0.006, 0.0001, 0.0015, 0.00055, 0.0021, 0.0024, 0.0021, 0.0012, 0.00098, 0.00055, 0.00007, 0.00027, 0.0006, 0.0026, 0.0015, 0.0015, 0.0021, 0.0028, 0.0047, 0.0028, 0.011, 0.00015, 0.0023]

BETAS = ["{-}0.6", "0", "0.6"]
LAMBDAS = ["0", "1", r"\infty"]

W, H = 1380, 1487
COLS = [91, 511, 931]
COL_W = 420
# (top of upper panel, split, bottom of residual panel) in pixels
ROWS = [(0, 280, 436), (500, 781, 938), (998, 1280, 1437)]


def box(x0, y0, x1, y1):
    return [x0 / W, 1 - y1 / H, (x1 - x0) / W, (y1 - y0) / H]


def style_ticks(ax):
    ax.tick_params(which="both", direction="in", top=True, right=True,
                   labelsize=12, width=0.8)
    ax.tick_params(which="major", length=5)
    ax.tick_params(which="minor", length=2.5)
    for s in ax.spines.values():
        s.set_linewidth(0.9)


fig = plt.figure(figsize=(W / 100, H / 100), dpi=100)

blocks = [
    dict(name="L", xlim=(-0.49, 8.84), major=2, minor=0.5, fmt=lambda v: f"{v:g}",
         ylim_r=(10 ** -4.41, 10 ** -0.66), xlabel=r"Log$_{10}\,\Lambda$",
         leg_anchor=[(0.905, 0.915), (0.905, 0.915), (0.915, 0.915)], leg_loc="upper right",
         fit_anchor=(0.6, 0.332)),
    dict(name="I", xlim=(-1.7, 230.0), major=50, minor=10, fmt=lambda v: f"{v:g}",
         ylim_r=(10 ** -4.41, 10 ** -1.03), xlabel=r"$\bar{I}$",
         leg_anchor=[(0.905, 0.912), (0.905, 0.912), (0.915, 0.912)], leg_loc="upper right",
         fit_anchor=(0.6, 0.331)),
    dict(name="C", xlim=(0.002, 0.395), major=0.05, minor=0.01, fmt=lambda v: f"{v:.2f}",
         ylim_r=(10 ** -4.43, 10 ** -0.69), xlabel="C",
         leg_anchor=[(0.088, 0.912), (0.093, 0.912), (0.093, 0.912)], leg_loc="upper left",
         fit_anchor=(0.6, 0.262)),
]

data = {
    ("L", 0): (Lm_fit_x, Lm_fit_y, (Lm_tri_x, Lm_tri_y, Lm_tri_rx, Lm_tri_r),
               (Lm_circ_x, Lm_circ_y, Lm_circ_rx, Lm_circ_r), (Lm_sq_x, Lm_sq_y, Lm_sq_rx, Lm_sq_r)),
    ("L", 1): (Lz_fit_x, Lz_fit_y, (Lz_tri_x, Lz_tri_y, Lz_tri_rx, Lz_tri_r),
               (Lz_circ_x, Lz_circ_y, Lz_circ_rx, Lz_circ_r), (Lz_sq_x, Lz_sq_y, Lz_sq_rx, Lz_sq_r)),
    ("L", 2): (Lp_fit_x, Lp_fit_y, (Lp_tri_x, Lp_tri_y, Lp_tri_rx, Lp_tri_r),
               (Lp_circ_x, Lp_circ_y, Lp_circ_rx, Lp_circ_r), (Lp_sq_x, Lp_sq_y, Lp_sq_rx, Lp_sq_r)),
    ("I", 0): (Im_fit_x, Im_fit_y, (Im_tri_x, Im_tri_y, Im_tri_rx, Im_tri_r),
               (Im_circ_x, Im_circ_y, Im_circ_rx, Im_circ_r), (Im_sq_x, Im_sq_y, Im_sq_rx, Im_sq_r)),
    ("I", 1): (Iz_fit_x, Iz_fit_y, (Iz_tri_x, Iz_tri_y, Iz_tri_rx, Iz_tri_r),
               (Iz_circ_x, Iz_circ_y, Iz_circ_rx, Iz_circ_r), (Iz_sq_x, Iz_sq_y, Iz_sq_rx, Iz_sq_r)),
    ("I", 2): (Ip_fit_x, Ip_fit_y, (Ip_tri_x, Ip_tri_y, Ip_tri_rx, Ip_tri_r),
               (Ip_circ_x, Ip_circ_y, Ip_circ_rx, Ip_circ_r), (Ip_sq_x, Ip_sq_y, Ip_sq_rx, Ip_sq_r)),
    ("C", 0): (Cm_fit_x, Cm_fit_y, (Cm_tri_x, Cm_tri_y, Cm_tri_rx, Cm_tri_r),
               (Cm_circ_x, Cm_circ_y, Cm_circ_rx, Cm_circ_r), (Cm_sq_x, Cm_sq_y, Cm_sq_rx, Cm_sq_r)),
    ("C", 1): (Cz_fit_x, Cz_fit_y, (Cz_tri_x, Cz_tri_y, Cz_tri_rx, Cz_tri_r),
               (Cz_circ_x, Cz_circ_y, Cz_circ_rx, Cz_circ_r), (Cz_sq_x, Cz_sq_y, Cz_sq_rx, Cz_sq_r)),
    ("C", 2): (Cp_fit_x, Cp_fit_y, (Cp_tri_x, Cp_tri_y, Cp_tri_rx, Cp_tri_r),
               (Cp_circ_x, Cp_circ_y, Cp_circ_rx, Cp_circ_r), (Cp_sq_x, Cp_sq_y, Cp_sq_rx, Cp_sq_r)),
}

styles = [("^", BLUE), ("o", RED), ("s", TEAL)]

for (y0, ym, y1), blk in zip(ROWS, blocks):
    for ci, x0 in enumerate(COLS):
        fit_x, fit_y, *series = data[(blk["name"], ci)]
        ax_t = fig.add_axes(box(x0, y0, x0 + COL_W, ym))
        ax_b = fig.add_axes(box(x0, ym, x0 + COL_W, y1))

        for (tx, ty, rx, ry), (mk, c) in zip(series, styles):
            ax_t.plot(tx, ty, color=c, lw=2.2, marker=mk, ms=3.8, mec=c, zorder=2)
            ax_b.plot(rx, ry, color=c, lw=0.9, marker=mk, ms=4.2, mec=c, zorder=2)
        ax_t.plot(fit_x, fit_y, color=FIT, lw=1.6, zorder=3)

        for ax in (ax_t, ax_b):
            ax.set_xlim(*blk["xlim"])
            ax.xaxis.set_major_locator(MultipleLocator(blk["major"]))
            ax.xaxis.set_minor_locator(MultipleLocator(blk["minor"]))
            style_ticks(ax)

        ax_t.set_ylim(0, 0.2373)
        ax_t.yaxis.set_major_locator(FixedLocator([0.05, 0.10, 0.15, 0.20]))
        ax_t.yaxis.set_major_formatter(FixedFormatter(["0.05", "0.10", "0.15", "0.20"]))
        ax_t.yaxis.set_minor_locator(MultipleLocator(0.01))
        ax_t.tick_params(labelbottom=False)

        ax_b.set_yscale("log")
        ax_b.set_ylim(*blk["ylim_r"])
        ax_b.yaxis.set_major_locator(FixedLocator([1e-4, 1e-3, 1e-2, 1e-1]))
        ax_b.yaxis.set_major_formatter(FixedFormatter([r"$10^{-4}$", "0.001", "0.010", "0.100"]))
        ax_b.yaxis.set_minor_locator(LogLocator(base=10, subs=np.arange(2, 10)))
        ax_b.yaxis.set_minor_formatter(NullFormatter())
        fmt = blk["fmt"]
        ax_b.xaxis.set_major_formatter(plt.FuncFormatter(lambda v, p, f=fmt: f(round(v, 4))))
        if blk["name"] == "C":
            ax_b.xaxis.set_major_locator(FixedLocator([0.05, 0.10, 0.15, 0.20, 0.25, 0.30, 0.35]))

        if ci > 0:
            ax_t.tick_params(labelleft=False)
            ax_b.tick_params(labelleft=False)

        handles = [Line2D([], [], ls="none", marker=mk, color=c, ms=3.6) for mk, c in styles]
        labels = [rf"$\tilde{{\lambda}}\,=\,{lam},\ \ \beta_{{\rm QL}}\,=\,{BETAS[ci]}$" for lam in LAMBDAS]
        leg = ax_t.legend(handles, labels, loc=blk["leg_loc"], bbox_to_anchor=blk["leg_anchor"][ci],
                          fontsize=9.6, labelspacing=1.05, handlelength=0.6, handletextpad=0.8,
                          borderpad=0.7, frameon=True, fancybox=True, framealpha=1,
                          facecolor="#f1f1f1", edgecolor="#f6f2c4")
        ax_t.add_artist(leg)
        ax_t.legend([Line2D([], [], color=FIT, lw=1.6)], ["Our fit"], loc="center left",
                    bbox_to_anchor=blk["fit_anchor"], frameon=False, fontsize=11,
                    handlelength=1.7, handletextpad=0.7)

        fig.text((x0 + COL_W / 2) / W, 1 - (y1 + 42) / H, blk["xlabel"], ha="center", va="center",
                 fontsize=14)

    fig.text(30 / W, 1 - (y0 + ym) / 2 / H, r"$\Omega_f$", rotation=90, ha="center", va="center",
             fontsize=13)
    fig.text(20 / W, 1 - (ym + y1) / 2 / H, r"$|\Omega_f\!-\!\Omega_{f_{\rm fit}}|/\Omega_{f_{\rm fit}}$",
             rotation=90, ha="center", va="center", fontsize=12)

fig.savefig("out.png", dpi=100)
